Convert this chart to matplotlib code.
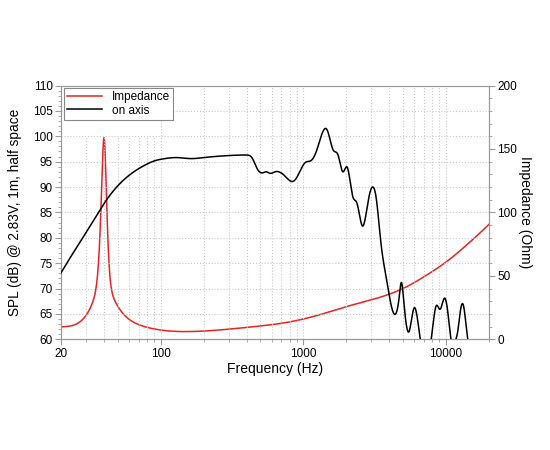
import numpy as np
import matplotlib.pyplot as plt
from matplotlib.ticker import MultipleLocator, LogLocator, NullFormatter, FixedLocator

plt.rcParams['font.family'] = ['Liberation Sans', 'DejaVu Sans']

# on axis SPL (dB)
spl_freq = [20, 23.8, 28.7, 34.6, 40.6, 50.6, 62.6, 77.3, 91.5, 107, 130, 160, 200,
            300, 400, 440, 470, 520, 550, 583, 632, 740, 859, 950, 1028, 1131,
            1250, 1470, 1617, 1750, 1890, 2030, 2220, 2370, 2600, 2870, 3060,
            3230, 3500, 3800, 4300, 4700, 4860, 5070, 5500, 5950, 6270, 6590,
            6900, 7500, 7870, 8530, 9080, 9820, 10450, 10840, 11530, 12120,
            12580, 13270, 14170, 15000]
spl_db = [73.1, 76.6, 80.2, 83.9, 87.0, 90.4, 92.7, 94.3, 95.2, 95.6, 95.8, 95.6,
          95.8, 96.2, 96.3, 95.6, 93.8, 92.8, 93.0, 92.7, 93.0, 92.2, 91.2, 93.2,
          94.8, 95.2, 97.5, 101.2, 97.3, 96.3, 93.0, 93.9, 88.1, 86.9, 82.3,
          87.8, 90.0, 88.1, 78.9, 72.3, 65.1, 68.4, 71.2, 67.1, 61.5, 66.1, 64.5,
          60.0, 57.0, 57.0, 60.0, 66.6, 65.9, 68.1, 63.8, 60.0, 59.5, 61.8, 65.4,
          66.6, 60.0, 57.0]

# impedance (Ohm)
imp_freq = [20, 25, 30, 33, 36, 38, 39, 40, 41, 42, 44, 47, 50, 60, 80, 100, 130,
            200, 300, 500, 700, 1000, 2000, 3440, 4860, 6920, 10090, 13940, 20000]
imp_ohm = [9.8, 11.5, 19.0, 28.0, 50.0, 100.0, 138.0, 158.9, 138.0, 99.0, 50.0,
           32.0, 26.0, 15.7, 9.5, 7.3, 6.2, 6.5, 8.0, 10.5, 12.6, 16.0, 25.7, 33.1,
           39.4, 48.9, 61.2, 74.3, 90.6]


def spline(x, y, xs):
    # natural cubic spline
    x = np.asarray(x, float)
    y = np.asarray(y, float)
    n = len(x)
    h = np.diff(x)
    A = np.zeros((n, n))
    b = np.zeros(n)
    A[0, 0] = A[-1, -1] = 1
    for i in range(1, n - 1):
        A[i, i - 1] = h[i - 1]
        A[i, i] = 2 * (h[i - 1] + h[i])
        A[i, i + 1] = h[i]
        b[i] = 3 * ((y[i + 1] - y[i]) / h[i] - (y[i] - y[i - 1]) / h[i - 1])
    c = np.linalg.solve(A, b)
    bb = (y[1:] - y[:-1]) / h - h * (2 * c[:-1] + c[1:]) / 3
    d = (c[1:] - c[:-1]) / (3 * h)
    idx = np.clip(np.searchsorted(x, xs) - 1, 0, n - 2)
    t = xs - x[idx]
    return y[idx] + bb[idx] * t + c[idx] * t**2 + d[idx] * t**3


def smooth(fx, fy, n=2000, logy=False):
    lx = np.log10(fx)
    xs = np.linspace(lx[0], lx[-1], n)
    if logy:
        ys = 10**spline(lx, np.log10(fy), xs)
    else:
        ys = spline(lx, fy, xs)
    return 10**xs, ys


fig = plt.figure(figsize=(5.5, 4.5), dpi=100)
ax = fig.add_axes([0.111, 0.246, 0.778, 0.564])
ax2 = ax.twinx()

grid_kw = dict(color='#c8c8c8', linestyle=':', linewidth=0.8, zorder=0)
for v in range(65, 110, 5):
    ax.axhline(v, **grid_kw)
for dec in [10, 100, 1000, 10000]:
    for k in range(1, 10):
        f = dec * k
        if f <= 20 or f >= 20000:
            continue
        if dec == 10 and k >= 3:
            ax.axvline(f, ymax=0.8, **grid_kw)
        else:
            ax.axvline(f, **grid_kw)

fx, fy = smooth(spl_freq, spl_db)
ax.plot(fx, fy, color='black', linewidth=1.1, label='on axis', zorder=3)
ix, iy = smooth(imp_freq, imp_ohm, logy=True)
ax2.plot(ix, iy, color='#e8231f', linewidth=1.1, zorder=3)
ax.plot([], [], color='#e8231f', linewidth=1.1, label='Impedance')

ax.set_xscale('log')
ax.set_xlim(20, 20000)
ax.set_ylim(60, 110)
ax2.set_ylim(0, 200)

ax.xaxis.set_major_locator(FixedLocator([20, 100, 1000, 10000]))
ax.set_xticklabels(['20', '100', '1000', '10000'])
ax.xaxis.set_minor_locator(LogLocator(base=10, subs=np.arange(2, 10)))
ax.xaxis.set_minor_formatter(NullFormatter())
ax.yaxis.set_major_locator(MultipleLocator(5))
ax.yaxis.set_minor_locator(MultipleLocator(1))
ax2.yaxis.set_major_locator(MultipleLocator(50))
ax2.yaxis.set_minor_locator(MultipleLocator(10))

for a in (ax, ax2):
    for s in a.spines.values():
        s.set_color('#999999')
        s.set_linewidth(0.8)
    a.tick_params(which='both', colors='#999999', labelcolor='black', labelsize=8.5)
    a.tick_params(which='major', length=4, pad=2)
    a.tick_params(which='minor', length=2)

ax.set_xlabel('Frequency (Hz)', fontsize=10, labelpad=2)
ax.set_ylabel('SPL (dB) @ 2.83V, 1m, half space', fontsize=9.8, labelpad=8)
ax2.set_ylabel('Impedance (Ohm)', fontsize=10, rotation=270, labelpad=11)

handles, labels = ax.get_legend_handles_labels()
leg = ax.legend(handles[::-1], labels[::-1], loc='upper left', fontsize=8.5,
                fancybox=False, framealpha=1, edgecolor='#888888',
                borderaxespad=0.25, handlelength=3.0, borderpad=0.25,
                labelspacing=0.1, handletextpad=0.8)
leg.get_frame().set_linewidth(0.8)
leg.set_zorder(10)
ax.set_zorder(ax2.get_zorder() + 1)
ax.patch.set_visible(False)

fig.savefig('out.png', dpi=100)
